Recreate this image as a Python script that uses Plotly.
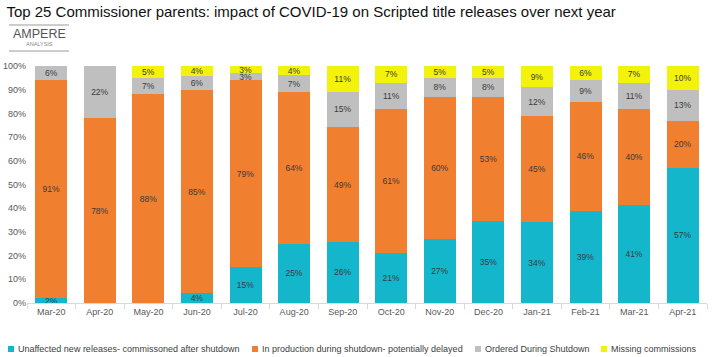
import plotly.graph_objects as go

months = ["Mar-20", "Apr-20", "May-20", "Jun-20", "Jul-20", "Aug-20", "Sep-20",
          "Oct-20", "Nov-20", "Dec-20", "Jan-21", "Feb-21", "Mar-21", "Apr-21"]
unaffected = [2, None, None, 4, 15, 25, 26, 21, 27, 35, 34, 39, 41, 57]
in_production = [91, 78, 88, 85, 79, 64, 49, 61, 60, 53, 45, 46, 40, 20]
ordered = [6, 22, 7, 6, 3, 7, 15, 11, 8, 8, 12, 9, 11, 13]
missing = [None, None, 5, 4, 3, 4, 11, 7, 5, 5, 9, 6, 7, 10]
y_ticks = [0, 10, 20, 30, 40, 50, 60, 70, 80, 90, 100]
y_tick_labels = ["0%", "10%", "20%", "30%", "40%", "50%", "60%", "70%", "80%", "90%", "100%"]

series_names = ["Unaffected new releases- commissoned after shutdown",
                "In production during shutdown- potentially delayed",
                "Ordered During Shutdown",
                "Missing commissions"]
series_values = [unaffected, in_production, ordered, missing]
series_colors = ["#14B6CC", "#F07F2F", "#BFBFBF", "#F2F20A"]

FONT = "Liberation Sans, Arial, sans-serif"

# plot area in pixels
L, R, T, B = 27, 5, 66, 54
W, H = 712, 357
pw, ph = W - L - R, H - T - B


def px(xp):
    return (xp - L) / pw


def py(yp):
    return (H - B - yp) / ph


fig = go.Figure()
for name, vals, color in zip(series_names, series_values, series_colors):
    fig.add_trace(go.Bar(
        x=months, y=vals, name=name, showlegend=False,
        marker=dict(color=color, line=dict(width=0)),
        text=[f"{v}%" if v else "" for v in vals],
        texttemplate="%{text}",
        textposition="inside", insidetextanchor="middle",
        textfont=dict(size=8.5, color="#3A3A3A", family=FONT),
        hoverinfo="skip",
    ))

fig.update_layout(
    barmode="stack", barnorm="percent", bargap=0.34,
    width=W, height=H,
    margin=dict(l=L, r=R, t=T, b=B, autoexpand=False),
    paper_bgcolor="white", plot_bgcolor="white",
    uniformtext=dict(minsize=8, mode="show"),
    font=dict(family=FONT, color="#595959"),
    title=dict(
        text="Top 25 Commissioner parents: impact of COVID-19 on Scripted title releases over next year",
        x=0.009, xanchor="left", xref="container",
        y=1 - 12 / H, yanchor="middle", yref="container",
        font=dict(size=15, color="#111111", family=FONT),
    ),
    xaxis=dict(
        showline=True, linecolor="#D9D9D9", linewidth=1,
        ticks="outside", tickson="boundaries", ticklen=5, tickcolor="#D9D9D9",
        tickfont=dict(size=9, color="#595959"),
        showgrid=False,
    ),
    yaxis=dict(
        range=[0, 100], tickmode="array", tickvals=y_ticks, ticktext=y_tick_labels,
        showgrid=False, showline=False, zeroline=False,
        tickfont=dict(size=9, color="#595959"),
    ),
)

# Manual legend (small square + text), built from the series lists
legend_marker_x = [11, 255, 478, 604]
legend_y = 349
for name, color, mx in zip(series_names, series_colors, legend_marker_x):
    fig.add_shape(type="rect", xref="paper", yref="paper",
                  x0=px(mx - 3), x1=px(mx + 3), y0=py(legend_y + 3), y1=py(legend_y - 3),
                  fillcolor=color, line=dict(width=0))
    fig.add_annotation(text=name, xref="paper", yref="paper",
                       x=px(mx + 5), y=py(legend_y), xanchor="left", yanchor="middle",
                       showarrow=False,
                       font=dict(size=9, color="#404040", family=FONT))

# Logo block (Ampere Analysis)
fig.add_shape(type="line", xref="paper", yref="paper",
              x0=px(9), x1=px(69), y0=py(25), y1=py(25),
              line=dict(color="#9A9A9A", width=1))
fig.add_shape(type="line", xref="paper", yref="paper",
              x0=px(9), x1=px(69), y0=py(51), y1=py(51),
              line=dict(color="#9A9A9A", width=1))
fig.add_annotation(text="AMPERE", xref="paper", yref="paper",
                   x=px(39), y=py(34), xanchor="center", yanchor="middle",
                   showarrow=False,
                   font=dict(size=12.5, color="#555555", family=FONT))
fig.add_annotation(text="ANALYSIS", xref="paper", yref="paper",
                   x=px(39), y=py(44), xanchor="center", yanchor="middle",
                   showarrow=False,
                   font=dict(size=5.5, color="#888888", family=FONT))

fig.write_html("out.html", config={"displayModeBar": False},
               post_script="document.body.style.margin='0';document.body.style.padding='0';")
